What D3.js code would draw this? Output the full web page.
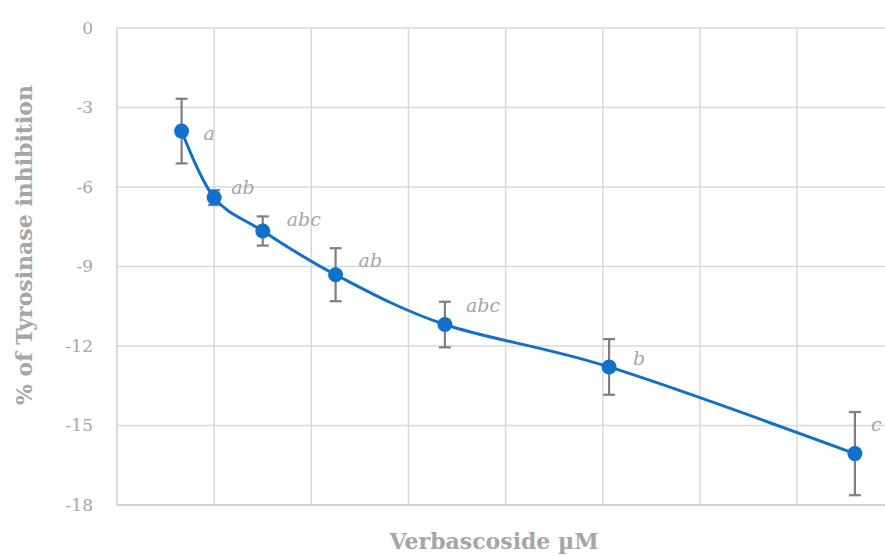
<!DOCTYPE html>
<html>
<head>
<meta charset="utf-8">
<script src="https://cdn.jsdelivr.net/npm/d3@7"></script>
<style>
  body { margin: 0; background: #fff; }
  svg { display: block; }
</style>
</head>
<body>
<svg id="chart" width="885" height="556"></svg>
<script>
// concentrations (µM) and mean % inhibition with SD
var conc = [13.3, 20, 30, 45, 67.5, 101.3, 151.9]
var means = [-3.89, -6.40, -7.66, -9.31, -11.19, -12.79, -16.06]
var errs = [1.22, 0.28, 0.55, 1.0, 0.86, 1.05, 1.57]
var letters = ['a', 'ab', 'abc', 'ab', 'abc', 'b', 'c']
var yTicks = [0, -3, -6, -9, -12, -15, -18]
var xGrid = [20, 40, 60, 80, 100, 120, 140]

// label placement relative to each point (px)
var labelDx = [22, 17, 24, 23, 21, 24, 16]
var labelDy = [9, -4, -5, -8, -13, -2, -23]

var svg = d3.select('#chart')
var margin = { left: 117, top: 28, right: 885, bottom: 505 }
var grey = '#a6a6a6'
var font = "'DejaVu Serif', serif"

var xscale = d3.scaleLinear()
    .domain([0, 158.1])
    .range([margin.left, margin.right])
var yscale = d3.scaleLinear()
    .domain([-18, 0])
    .range([margin.bottom, margin.top])

// horizontal grid
svg.append('g')
    .selectAll('line')
    .data(yTicks)
    .enter()
    .append('line')
    .attr('x1', margin.left)
    .attr('x2', margin.right)
    .attr('y1', d => yscale(d))
    .attr('y2', d => yscale(d))
    .attr('stroke', '#d9d9d9')
    .attr('stroke-width', 1.5)

// vertical grid
svg.append('g')
    .selectAll('line')
    .data(xGrid)
    .enter()
    .append('line')
    .attr('x1', d => xscale(d))
    .attr('x2', d => xscale(d))
    .attr('y1', margin.top)
    .attr('y2', margin.bottom)
    .attr('stroke', '#d9d9d9')
    .attr('stroke-width', 1.5)

// axis lines
svg.append('line')
    .attr('x1', margin.left).attr('x2', margin.left)
    .attr('y1', margin.top).attr('y2', margin.bottom)
    .attr('stroke', '#cfcfcf').attr('stroke-width', 1.5)
svg.append('line')
    .attr('x1', margin.left).attr('x2', margin.right)
    .attr('y1', margin.bottom).attr('y2', margin.bottom)
    .attr('stroke', '#cfcfcf').attr('stroke-width', 1.5)

// y tick labels
var yAxis = svg.append('g')
    .attr('transform', 'translate(' + (margin.left - 24) + ',0)')
    .call(d3.axisLeft(yscale).tickValues(yTicks).tickSize(0).tickPadding(0)
        .tickFormat(d => String(d)))
yAxis.select('.domain').remove()
yAxis.selectAll('text')
    .attr('fill', grey)
    .attr('font-family', font)
    .attr('font-size', 17)

// error bars
var eb = svg.append('g')
    .attr('stroke', '#7f7f7f')
    .attr('stroke-width', 2.2)
eb.selectAll('.v')
    .data(conc)
    .enter()
    .append('line')
    .attr('x1', d => xscale(d))
    .attr('x2', d => xscale(d))
    .attr('y1', (d, i) => yscale(means[i] + errs[i]))
    .attr('y2', (d, i) => yscale(means[i] - errs[i]))
eb.selectAll('.top')
    .data(conc)
    .enter()
    .append('line')
    .attr('x1', d => xscale(d) - 6)
    .attr('x2', d => xscale(d) + 6)
    .attr('y1', (d, i) => yscale(means[i] + errs[i]))
    .attr('y2', (d, i) => yscale(means[i] + errs[i]))
eb.selectAll('.bot')
    .data(conc)
    .enter()
    .append('line')
    .attr('x1', d => xscale(d) - 6)
    .attr('x2', d => xscale(d) + 6)
    .attr('y1', (d, i) => yscale(means[i] - errs[i]))
    .attr('y2', (d, i) => yscale(means[i] - errs[i]))

// smoothed line
var line = d3.line()
    .x((d, i) => xscale(conc[i]))
    .y(d => yscale(d))
    .curve(d3.curveCatmullRom.alpha(0))
svg.append('path')
    .datum(means)
    .attr('d', line)
    .attr('fill', 'none')
    .attr('stroke', '#1170c9')
    .attr('stroke-width', 3)

svg.append('g')
    .selectAll('circle')
    .data(means)
    .enter()
    .append('circle')
    .attr('cx', (d, i) => xscale(conc[i]))
    .attr('cy', d => yscale(d))
    .attr('r', 7.5)
    .attr('fill', '#1170c9')

// letters
svg.append('g')
    .selectAll('text')
    .data(letters)
    .enter()
    .append('text')
    .attr('x', (d, i) => xscale(conc[i]) + labelDx[i])
    .attr('y', (d, i) => yscale(means[i]) + labelDy[i])
    .attr('fill', grey)
    .attr('font-family', font)
    .attr('font-style', 'italic')
    .attr('font-size', 19)
    .text(d => d)

// axis titles
svg.append('text')
    .text('Verbascoside µM')
    .attr('x', 494)
    .attr('y', 549)
    .attr('text-anchor', 'middle')
    .attr('fill', grey)
    .attr('font-family', font)
    .attr('font-weight', 'bold')
    .attr('font-size', 22)
svg.append('text')
    .text('% of Tyrosinase inhibition')
    .attr('transform', 'translate(32,245) rotate(-90)')
    .attr('text-anchor', 'middle')
    .attr('fill', grey)
    .attr('font-family', font)
    .attr('font-weight', 'bold')
    .attr('font-size', 22)
</script>
</body>
</html>
